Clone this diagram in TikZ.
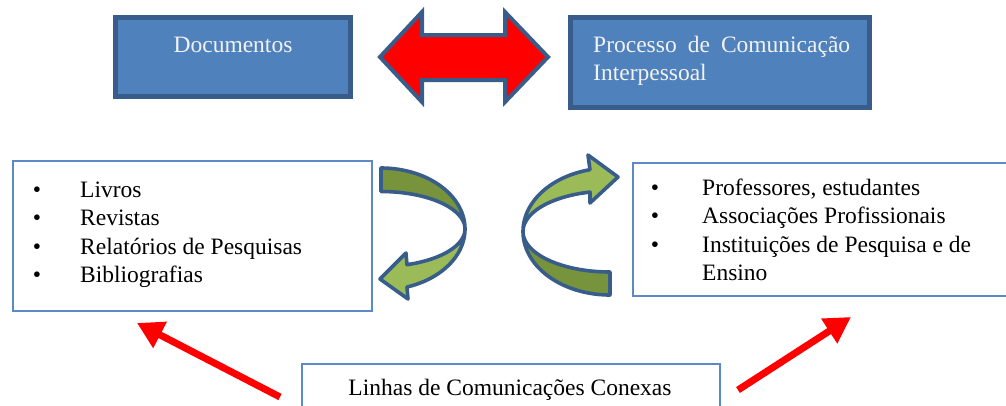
\documentclass[tikz,border=0pt]{standalone}
\usepackage{fontspec}
\setmainfont{Liberation Serif}
\usetikzlibrary{arrows.meta}
\definecolor{bfill}{HTML}{4F81BD}
\definecolor{bline}{HTML}{385D8A}
\definecolor{lline}{HTML}{5B8AC6}
\definecolor{gl}{HTML}{9BBB59}
\definecolor{gd}{HTML}{77933C}
\definecolor{toptext}{HTML}{F2F2F2}
\begin{document}
\begin{tikzpicture}[x=1pt,y=-1pt,
  topbox/.style={draw=bline, line width=5pt, fill=bfill, inner sep=0pt, minimum width=#1},
  listbox/.style={draw=lline, line width=1.8pt, fill=white, inner sep=0pt},
  txt/.style={inner sep=0pt, font=\fontsize{23.5}{28}\selectfont},
  wtxt/.style={txt, text=toptext},
  blockarrow/.style={draw=bline, line width=4pt, line join=miter, fill=red},
  garrow/.style={draw=bline, line width=3.6pt, line join=round},
  redarrow/.style={draw=red, line width=7pt, -{Triangle[length=26pt,width=28pt]}}
]
\useasboundingbox (0,0) rectangle (1006,405);
\clip (0,0) rectangle (1006,405);

% top boxes
\node[topbox=235pt, minimum height=79pt] (doc) at (233,57) {};
\node[topbox=299pt, minimum height=90pt] (proc) at (720,62.5) {};
\node[wtxt, anchor=base] (doct) at (233,52) {Documentos};
\node[wtxt, anchor=base west] (proct1) at (593,52) {\makebox[257pt][s]{Processo de Comunicação}};
\node[wtxt, anchor=base west] (proct2) at (593,80) {Interpessoal};

% red double block arrow
\filldraw[blockarrow] (380,57) -- (422,12) -- (422,35) -- (505,35) -- (505,12)
  -- (548,57) -- (505,102) -- (505,80) -- (422,80) -- (422,102) -- cycle;

% list boxes
\node[listbox, minimum width=359pt, minimum height=150pt] (left) at (192.5,236) {};
\node[listbox, minimum width=382pt, minimum height=133pt] (right) at (824,229.5) {};
\node[listbox, minimum width=418pt, minimum height=56pt] (bottom) at (511,392) {};

% left list
\foreach \t/\y [count=\i] in {Livros/197, Revistas/225.5, Relatórios de Pesquisas/254, Bibliografias/282.5}{
  \node[txt, anchor=base] (lb\i) at (37,\y) {•};
  \node[txt, anchor=base west] (lt\i) at (80,\y) {\t};
}
% right list
\foreach \t/\y [count=\i] in {{Professores, estudantes}/195, Associações Profissionais/223.5, Instituições de Pesquisa e de/252}{
  \node[txt, anchor=base] (rb\i) at (655,\y) {•};
  \node[txt, anchor=base west] (rt\i) at (702,\y) {\t};
}
\node[txt, anchor=base west] (rt4) at (702,280.5) {Ensino};

% bottom text
\node[txt, anchor=base] (bt) at (510,395) {Linhas de Comunicações Conexas};

% green curved arrows (left)
\filldraw[garrow, fill=gl] plot[domain=0:-72, samples=30] ({381+84*cos(\x)},{229-61*sin(\x)})
  -- (408,299) -- (380,279) -- (406,253)
  -- plot[domain=-72:0, samples=30] ({381+84*cos(\x)},{229-37.5*sin(\x)}) -- cycle;
\filldraw[garrow, fill=gd] plot[domain=90:0, samples=40] ({381+84*cos(\x)},{229-61*sin(\x)})
  -- plot[domain=0:90, samples=40] ({381+84*cos(\x)},{229-37.5*sin(\x)}) -- cycle;

% green curved arrows (right)
\filldraw[garrow, fill=gl] plot[domain=180:103.3, samples=30] ({610+87*cos(\x)},{231.5-63.5*sin(\x)})
  -- (588,155) -- (618,177) -- (590,203)
  -- plot[domain=103.3:180, samples=30] ({610+87*cos(\x)},{231.5-40.5*sin(\x)}) -- cycle;
\filldraw[garrow, fill=gd] plot[domain=270:180, samples=40] ({610+87*cos(\x)},{231.5-63.5*sin(\x)})
  -- plot[domain=180:270, samples=40] ({610+87*cos(\x)},{231.5-40.5*sin(\x)}) -- cycle;

% red arrows
\coordinate (la) at (280,397);
\coordinate (lh) at (137,323);
\coordinate (ra) at (738,390);
\coordinate (rh) at (851,317);
\draw[redarrow] (la) -- (lh);
\draw[redarrow] (ra) -- (rh);
\end{tikzpicture}
\end{document}
